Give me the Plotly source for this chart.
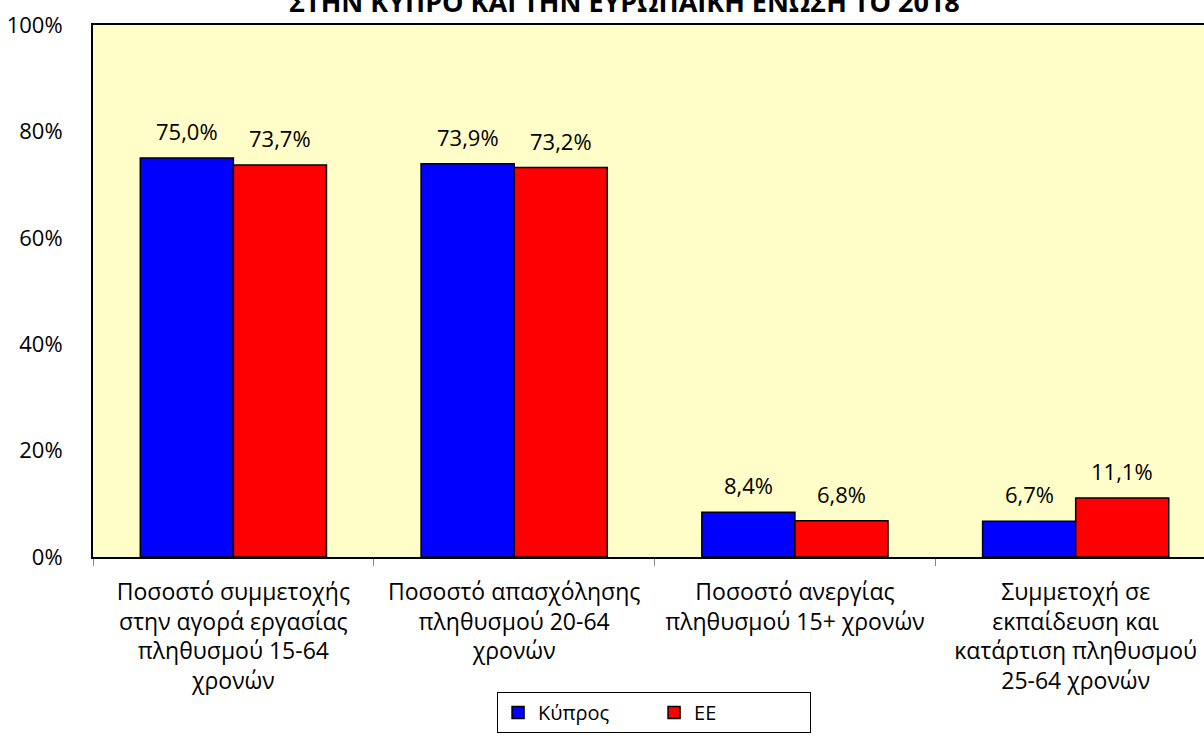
import plotly.graph_objects as go

categories = [
    "Ποσοστό συμμετοχής<br>στην αγορά εργασίας<br>πληθυσμού 15-64<br>χρονών",
    "Ποσοστό απασχόλησης<br>πληθυσμού 20-64<br>χρονών",
    "Ποσοστό ανεργίας<br>πληθυσμού 15+ χρονών",
    "Συμμετοχή σε<br>εκπαίδευση και<br>κατάρτιση πληθυσμού<br>25-64 χρονών",
]
cyprus = [75.0, 73.9, 8.4, 6.7]
eu = [73.7, 73.2, 6.8, 11.1]
series_names = ["Κύπρος", "ΕΕ"]
series_colors = ["#0000FF", "#FF0000"]
y_ticks = [0, 20, 40, 60, 80, 100]
y_tick_text = ["0%", "20%", "40%", "60%", "80%", "100%"]
title_text = "ΣΤΗΝ ΚΥΠΡΟ ΚΑΙ ΤΗΝ ΕΥΡΩΠΑΪΚΗ ΕΝΩΣΗ ΤΟ 2018"

FONT = "Open Sans"
W, H = 1204, 737
ML, MR, MT, MB = 93, 0, 25, 180
BARGAP = 0.337

fig = go.Figure()
for name, vals, col in zip(series_names, [cyprus, eu], series_colors):
    fig.add_trace(go.Bar(
        x=list(range(len(categories))), y=vals, name=name,
        marker=dict(color=col, line=dict(color="black", width=1.5)),
        hoverinfo="skip",
    ))

# data labels
bw = (1 - BARGAP) / 2
annotations = []
for si, vals in enumerate([cyprus, eu]):
    off = -bw / 2 if si == 0 else bw / 2
    for i, v in enumerate(vals):
        annotations.append(dict(
            x=i + off, y=v, xref="x", yref="y",
            text=f"{v:.1f}".replace(".", ",") + "%",
            showarrow=False, yanchor="middle", yshift=27,
            font=dict(family=FONT, size=22, color="black"),
        ))

annotations.append(dict(
    x=0.4785, y=1.006, xref="paper", yref="paper",
    text="<b>" + title_text + "</b>", showarrow=False,
    xanchor="center", yanchor="bottom",
    font=dict(family=FONT, size=27, color="black"),
))

fig.update_layout(
    width=W, height=H,
    margin=dict(l=ML, r=MR, t=MT, b=MB, pad=0),
    paper_bgcolor="white", plot_bgcolor="#FFFDC8",
    barmode="group", bargap=BARGAP, bargroupgap=0,
    font=dict(family=FONT, size=22, color="black"),
    showlegend=True,
    legend=dict(
        orientation="h", x=0.505, y=-0.2538, xanchor="center", yanchor="top",
        bgcolor="white", bordercolor="black", borderwidth=1,
        font=dict(family=FONT, size=20), entrywidth=111,
    ),
    annotations=annotations,
)
fig.update_xaxes(
    tickmode="array", tickvals=list(range(len(categories))), ticktext=categories,
    tickfont=dict(family=FONT, size=23),
    range=[-0.5, 3.457], showline=True, linecolor="black", linewidth=2,
    mirror=True, ticks="", showgrid=False, zeroline=False, ticklabelstandoff=13,
    minor=dict(tickvals=[-0.5, 0.5, 1.5, 2.5, 3.5], ticks="outside",
               ticklen=7, tickcolor="#888888", tickwidth=1),
)
fig.update_yaxes(
    range=[0, 100], tickmode="array", tickvals=y_ticks, ticktext=y_tick_text,
    tickfont=dict(family=FONT, size=22),
    showgrid=False, showline=True, linecolor="black", linewidth=2,
    zeroline=False, ticks="", ticklabelstandoff=24,
)

fig.write_html(
    "out.html",
    config={"displayModeBar": False},
    post_script="document.body.style.margin='0';document.body.style.overflow='hidden';",
)
